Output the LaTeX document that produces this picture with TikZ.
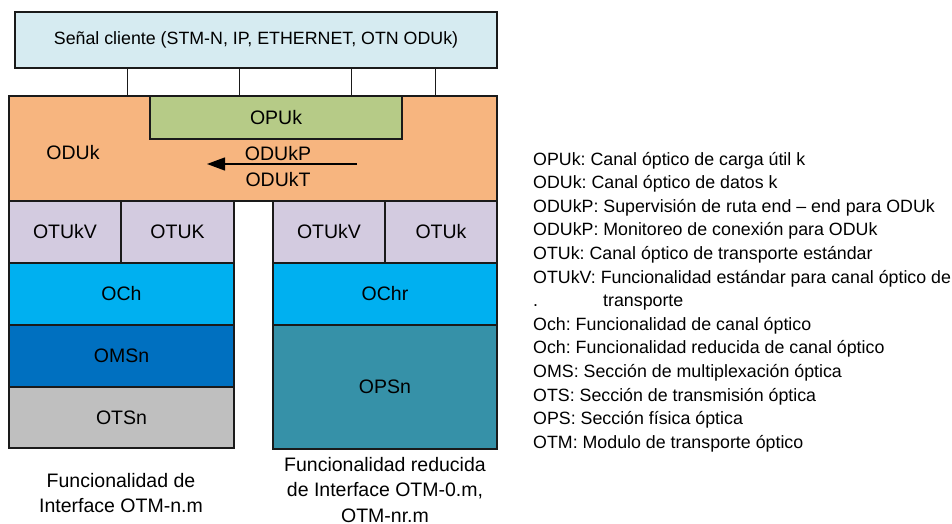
\documentclass[tikz,border=0pt]{standalone}
\usepackage{fontspec}
\setmainfont{Liberation Sans}
\usetikzlibrary{arrows.meta}
\frenchspacing
\definecolor{clientc}{HTML}{D6EBF1}
\definecolor{odukc}{HTML}{F7B57F}
\definecolor{opukc}{HTML}{B6CB87}
\definecolor{otukc}{HTML}{D3CBE0}
\definecolor{ochc}{HTML}{00B0F0}
\definecolor{omsc}{HTML}{0070C0}
\definecolor{otsc}{HTML}{BFBFBF}
\definecolor{opsc}{HTML}{3691A8}
\definecolor{edge}{HTML}{1A1A1A}
\begin{document}
\frenchspacing
\begin{tikzpicture}[x=1pt,y=-1pt,
  layer/.style={draw=edge, line width=1.4pt, inner sep=0pt, outer sep=0pt, anchor=north west,
    font=\fontsize{19.5}{22}\selectfont},
  plain/.style={inner sep=0pt, font=\fontsize{19.5}{22}\selectfont},
  legend/.style={inner sep=0pt, anchor=base west, font=\fontsize{17.8}{20}\selectfont\frenchspacing},
  caption/.style={inner sep=0pt, align=center, font=\fontsize{19.5}{25.6}\selectfont},
  link/.style={draw=edge, line width=1pt}]
\useasboundingbox (0,0) rectangle (952,524);

% client signal
\node[layer, fill=clientc, minimum width=482pt, minimum height=56pt,
  font=\fontsize{17.8}{20}\selectfont] (client) at (15,12) {Señal cliente (STM-N, IP, ETHERNET, OTN ODUk)};

% ODUk and OPUk
\node[layer, fill=odukc, minimum width=488pt, minimum height=105pt] (oduk) at (9,96) {};
\node[layer, fill=opukc, minimum width=252pt, minimum height=43pt] (opuk) at (150,96) {OPUk};

% links client -> ODUk
\coordinate (c1) at (127,0);
\coordinate (c2) at (239,0);
\coordinate (c3) at (351,0);
\coordinate (c4) at (435,0);
\foreach \c in {c1,c2,c3,c4}
  \draw[link] (client.south -| \c) -- (oduk.north -| \c);

\node[plain] (odulabel) at (73,153) {ODUk};
\node[plain] (odukp) at (278,154) {ODUkP};
\node[plain] (odukt) at (278,180) {ODUkT};
\coordinate (arrs) at (357,164);
\coordinate (arre) at (207,164);
\draw[line width=1.3pt, -{Triangle[length=18pt,width=13pt]}] (arrs) -- (arre);

% left stack
\node[layer, fill=otukc, minimum width=112pt, minimum height=62pt] (lotukv) at (9,201) {OTUkV};
\node[layer, fill=otukc, minimum width=113pt, minimum height=62pt] (lotuk) at (121,201) {OTUK};
\node[layer, fill=ochc, minimum width=225pt, minimum height=62pt] (loch) at (9,263) {OCh};
\node[layer, fill=omsc, minimum width=225pt, minimum height=62pt] (loms) at (9,325) {OMSn};
\node[layer, fill=otsc, minimum width=225pt, minimum height=61pt] (lots) at (9,387) {OTSn};

% right stack
\node[layer, fill=otukc, minimum width=112pt, minimum height=62pt] (rotukv) at (273,201) {OTUkV};
\node[layer, fill=otukc, minimum width=112pt, minimum height=62pt] (rotuk) at (385,201) {OTUk};
\node[layer, fill=ochc, minimum width=224pt, minimum height=62pt] (roch) at (273,263) {OChr};
\node[layer, fill=opsc, minimum width=224pt, minimum height=124pt] (rops) at (273,325) {OPSn};

% captions
\node[caption] (lcap) at (121,493) {Funcionalidad de\\Interface OTM-n.m};
\node[caption] (rcap) at (385,490) {Funcionalidad reducida\\de Interface OTM-0.m,\\OTM-nr.m};

% legend
\foreach \t [count=\i] in {
  {OPUk: Canal óptico de carga útil k},
  {ODUk: Canal óptico de datos k},
  {ODUkP: Supervisión de ruta end – end para ODUk},
  {ODUkP: Monitoreo de conexión para ODUk},
  {OTUk: Canal óptico de transporte estándar},
  {OTUkV: Funcionalidad estándar para canal óptico de},
  {\makebox[70pt][l]{.}transporte},
  {Och: Funcionalidad de canal óptico},
  {Och: Funcionalidad reducida de canal óptico},
  {OMS: Sección de multiplexación óptica},
  {OTS: Sección de transmisión óptica},
  {OPS: Sección física óptica},
  {OTM: Modulo de transporte óptico}}
  \node[legend] (leg\i) at (533,{165+(\i-1)*23.6}) {\t};
\end{tikzpicture}
\end{document}
